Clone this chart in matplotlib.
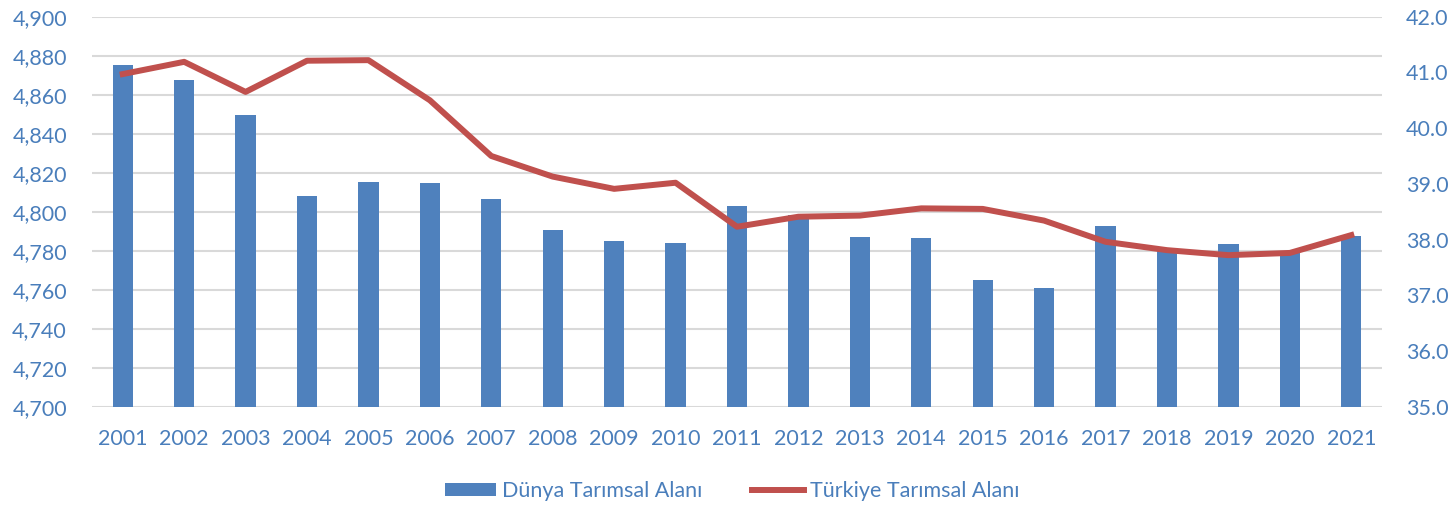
import matplotlib
matplotlib.use("Agg")
import matplotlib.pyplot as plt
from matplotlib.patches import Patch
from matplotlib.lines import Line2D
import numpy as np

years = [str(y) for y in range(2001, 2022)]
dunya = [4875.2, 4867.5, 4849.6, 4808.1, 4815.2, 4814.7, 4806.5, 4790.6, 4785.0, 4784.0,
         4802.9, 4798.5, 4787.0, 4786.5, 4765.0, 4760.8, 4792.7, 4780.5, 4783.4, 4779.5, 4787.5]
turkiye = [40.97, 41.19, 40.65, 41.21, 41.22, 40.50, 39.50, 39.13, 38.91, 39.02,
           38.23, 38.41, 38.43, 38.56, 38.55, 38.34, 37.96, 37.81, 37.72, 37.76, 38.08]
left_ticks = list(range(4700, 4901, 20))
right_ticks = [35.0, 36.0, 37.0, 38.0, 39.0, 40.0, 41.0, 42.0]

BLUE = "#4F81BD"
RED = "#C0504D"
TXT = "#4A7EBB"
GRID = "#D9D9D9"
plt.rcParams['font.family'] = ['Lato', 'DejaVu Sans']

fig = plt.figure(figsize=(14.55, 5.07), dpi=100)
ax = fig.add_axes([92/1455, 1-406.7/507, 1290/1455, 390/507])
x = np.arange(len(years))
ax.bar(x, [v - 4700 for v in dunya], bottom=4700, width=0.33, color=BLUE, zorder=2)
ax.set_xlim(-0.5, len(years) - 0.5)
ax.set_ylim(4700, 4900)
ax.set_yticks(left_ticks)
ax.set_yticklabels([f"{t:,}" for t in left_ticks])
ax.set_xticks(x)
ax.set_xticklabels(years)
ax.grid(axis='y', color=GRID, linewidth=1.5, zorder=0)
ax.set_axisbelow(True)
for s in ax.spines.values():
    s.set_visible(False)
ax.tick_params(axis='y', length=0, pad=18, labelsize=15.5, labelcolor=TXT)
ax.tick_params(axis='x', length=0, pad=16, labelsize=15.5, labelcolor=TXT)

ax2 = ax.twinx()
ax2.plot(x, turkiye, color=RED, linewidth=4.3, solid_joinstyle='round', zorder=3)
ax2.set_ylim(35, 42)
ax2.set_yticks(right_ticks)
ax2.set_yticklabels([f"{t:.1f}" for t in right_ticks])
for s in ax2.spines.values():
    s.set_visible(False)
ax2.tick_params(axis='y', length=0, pad=17, labelsize=15.5, labelcolor=TXT)

handles = [Patch(facecolor=BLUE, edgecolor='none'),
           Line2D([0], [0], color=RED, linewidth=4.3)]
leg = fig.legend(handles, ["Dünya Tarımsal Alanı", "Türkiye Tarımsal Alanı"],
                 loc='center', bbox_to_anchor=(732/1455, 1-491/507), ncol=2,
                 frameon=False, fontsize=15.5, handlelength=2.4, handleheight=0.6,
                 handletextpad=0.28, columnspacing=2.3)
for t in leg.get_texts():
    t.set_color(TXT)

fig.savefig("out.png", dpi=100)
